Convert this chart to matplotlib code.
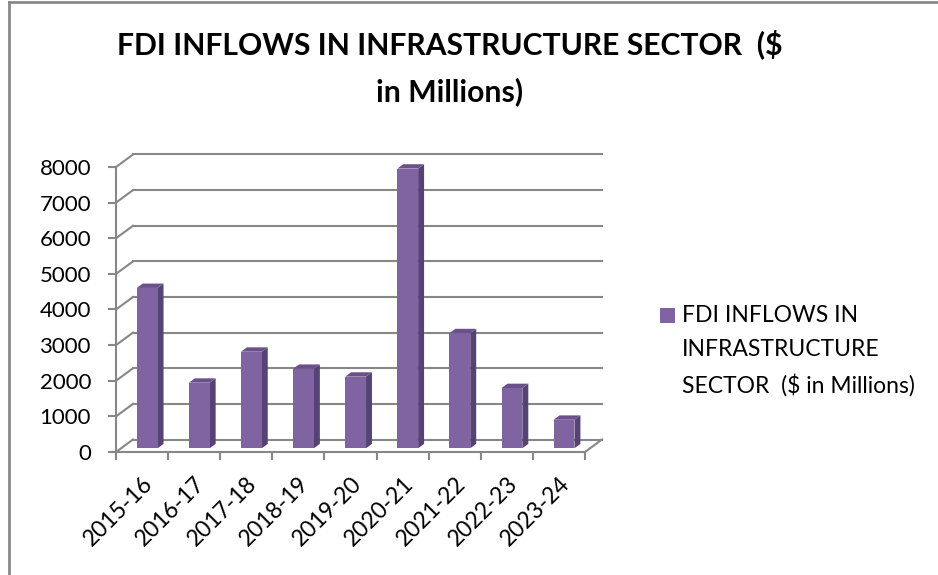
import matplotlib
matplotlib.use("Agg")
import matplotlib.pyplot as plt
from matplotlib.patches import Polygon, Rectangle
from matplotlib.lines import Line2D

# ---- data -------------------------------------------------------------
years = ["2015-16", "2016-17", "2017-18", "2018-19", "2019-20",
         "2020-21", "2021-22", "2022-23", "2023-24"]
fdi_inflows = [4500, 1840, 2710, 2230, 2010, 7850, 3230, 1690, 800]
series_name = "FDI INFLOWS IN INFRASTRUCTURE SECTOR  ($ in Millions)"
y_ticks = [0, 1000, 2000, 3000, 4000, 5000, 6000, 7000, 8000]

# ---- style ------------------------------------------------------------
FONT = "Lato"
FRONT = "#8064A2"
SIDE = "#574373"
TOP = "#6A5189"
GRID = "#878787"

W, H = 938, 575
fig = plt.figure(figsize=(W / 100, H / 100), dpi=100)
fig.patch.set_facecolor("white")

# plot area (front plane)
px_left, px_right, px_bottom, px_top = 116, 585, 452, 167
ax = fig.add_axes([px_left / W, 1 - px_bottom / H,
                   (px_right - px_left) / W, (px_bottom - px_top) / H])
n = len(years)
ax.set_xlim(0, n)
ax.set_ylim(0, 8000)
ax.set_facecolor("none")

# oblique depth offset (category units, value units)
ddx = 17 / ((px_right - px_left) / n)
ddy = 12.5 / ((px_bottom - px_top) / 8000)

# back wall gridlines and side-wall connectors
for v in y_ticks:
    ax.add_line(Line2D([ddx, n + ddx], [v + ddy, v + ddy], color=GRID,
                       lw=1.5, clip_on=False, zorder=1))
    ax.add_line(Line2D([0, ddx], [v, v + ddy], color=GRID,
                       lw=1.5, clip_on=False, zorder=1))
# right edge of the floor
ax.add_line(Line2D([n, n + ddx], [0, ddy], color=GRID, lw=1.5,
                   clip_on=False, zorder=1))

# 3D columns
f0, depth, width = 0.3, 0.35, 0.40
for i, v in enumerate(fdi_inflows):
    c = i + 0.5
    x0 = c - width / 2 + f0 * ddx
    x1 = x0 + width
    y0 = f0 * ddy
    ox, oy = depth * ddx, depth * ddy
    side = Polygon([(x1, y0), (x1, y0 + v), (x1 + ox, y0 + v + oy),
                    (x1 + ox, y0 + oy)], closed=True, facecolor=SIDE,
                   edgecolor="none", clip_on=False, zorder=3)
    top = Polygon([(x0, y0 + v), (x1, y0 + v), (x1 + ox, y0 + v + oy),
                   (x0 + ox, y0 + v + oy)], closed=True, facecolor=TOP,
                  edgecolor="none", clip_on=False, zorder=3)
    front = Rectangle((x0, y0), width, v, facecolor=FRONT,
                      edgecolor="none", clip_on=False, zorder=4)
    for p in (side, top, front):
        ax.add_patch(p)

# axes: spines and ticks
for s in ("top", "right"):
    ax.spines[s].set_visible(False)
for s in ("left", "bottom"):
    ax.spines[s].set_color(GRID)
    ax.spines[s].set_linewidth(1.5)
    ax.spines[s].set_zorder(5)

ax.set_yticks(y_ticks)
ax.set_yticklabels([str(t) for t in y_ticks], fontsize=16, family=FONT)
ax.tick_params(axis="y", direction="out", length=6, width=1.5,
               color=GRID, pad=12)

ax.set_xticks(range(n + 1))
ax.set_xticklabels([])
ax.tick_params(axis="x", which="major", direction="out", length=6,
               width=1.5, color=GRID)
ax.set_xticks([i + 0.5 for i in range(n)], minor=True)
ax.set_xticklabels(years, minor=True, rotation=45, ha="right",
                   va="top", rotation_mode="anchor", fontsize=16.5,
                   family=FONT)
ax.tick_params(axis="x", which="minor", length=0, pad=15)

# title
fig.text(450 / W, 1 - 68 / H,
         "FDI INFLOWS IN INFRASTRUCTURE SECTOR  ($\nin Millions)",
         ha="center", va="center", fontsize=21.7, fontweight="bold",
         family=FONT, linespacing=1.75)

# legend
fig.patches.append(Rectangle((660 / W, 1 - 323 / H), 15 / W, 15 / H,
                             transform=fig.transFigure, facecolor=FRONT,
                             edgecolor="none"))
fig.text(682 / W, 1 - 305 / H,
         "FDI INFLOWS IN\nINFRASTRUCTURE\nSECTOR  ($ in Millions)",
         ha="left", va="top", fontsize=16.5, family=FONT,
         linespacing=1.75, transform=fig.transFigure)

# chart border (left and top edges)
fig.add_artist(Line2D([9 / W, 9 / W], [0, 1 - 2 / H], color="#888888",
                      lw=2, transform=fig.transFigure))
fig.add_artist(Line2D([9 / W, 1], [1 - 2 / H, 1 - 2 / H], color="#888888",
                      lw=2, transform=fig.transFigure))

fig.savefig("out.png", dpi=100, facecolor="white")
